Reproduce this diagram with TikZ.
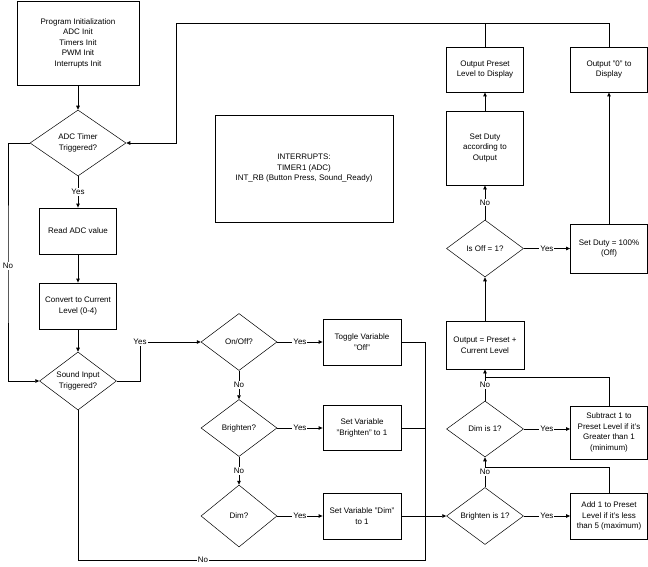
\documentclass[tikz,border=0pt]{standalone}
\usepackage{fontspec}
\setmainfont{Liberation Sans}
\usetikzlibrary{shapes.geometric,arrows.meta}

\tikzset{
  box/.style={draw, line width=0.8pt, align=center, inner sep=1pt},
  decision/.style={draw, diamond, aspect=1.5, line width=0.5pt, align=center, inner sep=0pt},
  arr/.style={-{Triangle[length=4pt,width=3.5pt]}},
  lbl/.style={fill=white, inner sep=1pt},
}

\begin{document}
\begin{tikzpicture}[x=1pt, y=-1pt, line width=0.8pt, font=\fontsize{8}{10.5}\selectfont]
   \useasboundingbox (0,0) rectangle (648,567);

   % left column
   \node[box, minimum width=122pt, minimum height=84pt] (init) at (78,43)
     {Program Initialization\\ADC Init\\Timers Init\\PWM Init\\Interrupts Init};
   \node[decision, minimum width=96pt, minimum height=66pt] (adc) at (78,143)
     {ADC Timer\\Triggered?};
   \node[box, minimum width=77pt, minimum height=46pt] (read) at (78,231) {Read ADC value};
   \node[box, minimum width=77pt, minimum height=46pt] (conv) at (78,306)
     {Convert to Current\\Level (0-4)};
   \node[decision, minimum width=77pt, minimum height=58pt] (sound) at (78,381)
     {Sound Input\\Triggered?};

   \node[box, minimum width=178pt, minimum height=107pt] (intr) at (304,168.5)
     {INTERRUPTS:\\TIMER1 (ADC)\\INT\_RB (Button Press, Sound\_Ready)};

   % button decisions
   \node[decision, minimum width=76pt, minimum height=57pt] (onoff) at (239,342) {On/Off?};
   \node[decision, minimum width=76pt, minimum height=57pt] (bright) at (239,428) {Brighten?};
   \node[decision, minimum width=76pt, minimum height=62pt] (dim) at (239,516) {Dim?};
   \node[box, minimum width=78pt, minimum height=46pt] (toggle) at (362,342)
     {Toggle Variable\\"Off"};
   \node[box, minimum width=78pt, minimum height=45pt] (setbr) at (362,428)
     {Set Variable\\"Brighten" to 1};
   \node[box, minimum width=78pt, minimum height=46pt] (setdim) at (362,516)
     {Set Variable "Dim"\\to 1};

   % right columns
   \node[decision, minimum width=77pt, minimum height=57pt] (brone) at (485,516) {Brighten is 1?};
   \node[decision, minimum width=77pt, minimum height=56pt] (dimone) at (485,429) {Dim is 1?};
   \node[box, minimum width=78pt, minimum height=48pt] (outsum) at (485,345)
     {Output = Preset +\\Current Level};
   \node[decision, minimum width=77pt, minimum height=57pt] (isoff) at (485,248.5) {Is Off = 1?};
   \node[box, minimum width=77pt, minimum height=74pt] (setduty) at (485,148)
     {Set Duty\\according to\\Output};
   \node[box, minimum width=77pt, minimum height=45pt] (outpre) at (485,69.5)
     {Output Preset\\Level to Display};
   \node[box, minimum width=77pt, minimum height=45pt] (outzero) at (609,69.5)
     {Output "0" to\\Display};
   \node[box, minimum width=77pt, minimum height=49pt] (duty) at (609,248.5)
     {Set Duty = 100\%\\(Off)};
   \node[box, minimum width=77pt, minimum height=53pt] (subtr) at (609,432.5)
     {Subtract 1 to\\Preset Level if it's\\Greater than 1\\(minimum)};
   \node[box, minimum width=77pt, minimum height=46pt] (addone) at (609,516)
     {Add 1 to Preset\\Level if it's less\\than 5 (maximum)};

   \coordinate (yesbend) at (140,342);
   \coordinate (jtop) at (425,342);
   \coordinate (jbot) at (425,560);
   \coordinate (topL) at (176,23);
   \coordinate (topR) at (609,23);

   % main loop
   \draw[arr] (init) -- (adc);
   \draw[arr] (adc) -- node[lbl]{Yes} (read);
   \draw[arr] (read) -- (conv);
   \draw[arr] (conv) -- (sound);
   \draw[arr] (adc.west) -| (8,266) node[lbl]{No} |- (sound.west);
   \draw[arr] (sound.east) -| (yesbend) node[lbl]{Yes} -- (onoff.west);

   \draw[arr] (onoff) -- node[lbl]{Yes} (toggle);
   \draw[arr] (onoff) -- node[lbl]{No} (bright);
   \draw[arr] (bright) -- node[lbl]{Yes} (setbr);
   \draw[arr] (bright) -- node[lbl]{No} (dim);
   \draw[arr] (dim) -- node[lbl]{Yes} (setdim);

   \draw (sound.south) |- node[lbl, pos=0.68]{No} (jbot) -- (jtop) -- (toggle.east);
   \draw (setbr.east) -- (setbr.east -| jtop);
   \draw[arr] (setdim) -- (brone);

   \draw[arr] (brone) -- node[lbl]{Yes} (addone);
   \draw[arr] (brone) -- node[lbl]{No} (dimone);
   \draw (addone.north) |- (485,467);
   \draw[arr] (dimone.east) -- node[lbl]{Yes} (dimone.east -| subtr.west);
   \draw[arr] (dimone) -- node[lbl]{No} (outsum);
   \draw (subtr.north) |- (485,377);
   \draw[arr] (outsum) -- (isoff);
   \draw[arr] (isoff) -- node[lbl]{Yes} (duty);
   \draw[arr] (isoff) -- node[lbl]{No} (setduty);
   \draw[arr] (setduty) -- (outpre);
   \draw[arr] (duty) -- (outzero);

   \draw (outpre.north) -- (outpre.north |- topR);
   \draw[arr] (outzero.north) -- (topR) -- (topL) -- (topL |- adc.east) -- (adc.east);

 \end{tikzpicture}
\end{document}
